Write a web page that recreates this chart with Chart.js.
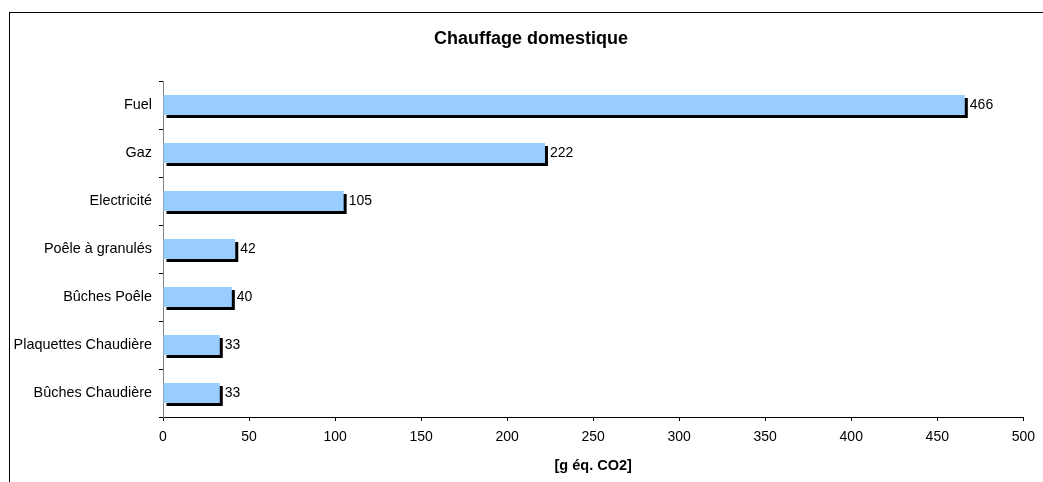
<!DOCTYPE html>
<html>
<head>
<meta charset="utf-8">
<script src="https://cdn.jsdelivr.net/npm/chart.js@4/dist/chart.umd.min.js"></script>
<style>
  html, body { margin: 0; padding: 0; background: #fff; overflow: hidden; }
  #frame { position: absolute; left: 9px; top: 12px; width: 1200px; height: 600px;
           border-left: 1px solid #000; border-top: 1px solid #000; }
  #chart { position: absolute; left: 0; top: 0; }
</style>
</head>
<body>
<div id="frame"></div>
<canvas id="chart" width="1043" height="482"></canvas>
<script>
const categories = ['Fuel', 'Gaz', 'Electricité', 'Poêle à granulés', 'Bûches Poêle', 'Plaquettes Chaudière', 'Bûches Chaudière'];
const emissions = [466, 222, 105, 42, 40, 33, 33];
const xTicks = [0, 50, 100, 150, 200, 250, 300, 350, 400, 450, 500];
const chartTitle = 'Chauffage domestique';

const FONT = "'Liberation Sans', Arial, sans-serif";

// black drop shadow under each bar, like the old Excel style
const barShadow = {
  id: 'barShadow',
  beforeDatasetsDraw(chart) {
    const ctx = chart.ctx;
    ctx.save();
    ctx.shadowColor = '#000';
    ctx.shadowOffsetX = 3;
    ctx.shadowOffsetY = 3;
    ctx.shadowBlur = 0;
  },
  afterDatasetsDraw(chart) {
    chart.ctx.restore();
  }
};

// value next to each bar + the title (the built-in one can't sit off-centre)
const labelsAndTitle = {
  id: 'labelsAndTitle',
  afterDraw(chart) {
    const ctx = chart.ctx;
    const meta = chart.getDatasetMeta(0);
    ctx.save();
    ctx.fillStyle = '#000';
    ctx.textBaseline = 'middle';
    ctx.font = '14px ' + FONT;
    ctx.textAlign = 'left';
    meta.data.forEach((bar, i) => {
      ctx.fillText(String(emissions[i]), bar.x + 5, bar.y);
    });
    ctx.font = 'bold 18px ' + FONT;
    ctx.textAlign = 'center';
    ctx.fillText(chartTitle, (chart.width + 19) / 2, 39);
    ctx.restore();
  }
};

const ctx = document.getElementById('chart').getContext('2d');
new Chart(ctx, {
  type: 'bar',
  data: {
    labels: categories,
    datasets: [{
      data: emissions,
      backgroundColor: '#99CCFF',
      borderWidth: 0,
      categoryPercentage: 1,
      barPercentage: 0.42,
    }],
  },
  plugins: [barShadow, labelsAndTitle],
  options: {
    indexAxis: 'y',
    responsive: false,
    animation: false,
    devicePixelRatio: 1,
    layout: {
      padding: { left: 0, right: 16.5, top: 81, bottom: 0 },
    },
    scales: {
      x: {
        min: 0,
        max: 500,
        afterFit: (scale) => { scale.height = 65; },
        afterBuildTicks: (scale) => { scale.ticks = xTicks.map((v) => ({ value: v })); },
        grid: {
          drawOnChartArea: false,
          drawTicks: true,
          tickLength: 4,
          color: '#000',
        },
        border: { color: '#000', width: 1 },
        ticks: {
          color: '#000',
          padding: 8,
          maxRotation: 0,
          font: { family: FONT, size: 14 },
        },
        title: {
          display: true,
          text: '[g éq. CO2]',
          color: '#000',
          padding: { top: 4, bottom: 7 },
          font: { family: FONT, size: 14.5, weight: 'bold' },
        },
      },
      y: {
        afterFit: (scale) => { scale.width = 163; },
        grid: {
          drawOnChartArea: false,
          drawTicks: true,
          tickLength: 4,
          color: '#000',
          offset: true,
        },
        border: { color: '#808080', width: 1 },
        ticks: {
          color: '#000',
          padding: 7,
          font: { family: FONT, size: 14.4 },
        },
      },
    },
    plugins: {
      legend: { display: false },
      tooltip: { enabled: false },
      title: { display: false },
    },
  },
});
</script>
</body>
</html>
